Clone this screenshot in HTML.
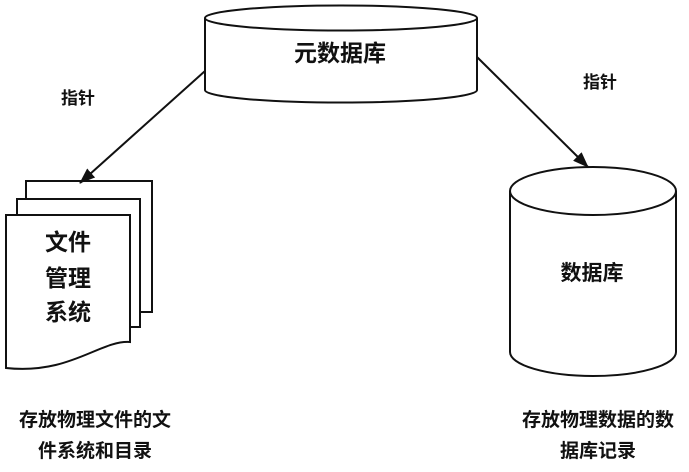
<!DOCTYPE html>
<html><head><meta charset="utf-8"><style>
body{margin:0;background:#fff;width:689px;height:472px;overflow:hidden}
svg{display:block}
text{font-family:"Liberation Sans","Noto Sans CJK SC",sans-serif;font-weight:bold;fill:#111}
</style></head><body>
<svg width="689" height="472" viewBox="0 0 689 472" xmlns="http://www.w3.org/2000/svg">
<defs>
<marker id="b" markerWidth="16" markerHeight="12" refX="15" refY="6" orient="auto" markerUnits="userSpaceOnUse"><path d="M0,0 L16,6 L0,12 z" fill="#111"/></marker></defs>
<g stroke="#111" stroke-width="2" fill="#fff">
<path d="M205,18 L205,90 A136,12.5 0 0 0 477,90 L477,18"/>
<ellipse cx="341" cy="18" rx="136" ry="12.5"/>
<path d="M510,191 L510,352 A83,24 0 0 0 676,352 L676,191"/>
<ellipse cx="593" cy="191" rx="83" ry="24"/>
<rect x="26" y="181" width="126" height="131"/>
<rect x="17" y="199" width="123" height="128"/>
<path d="M6,215 L130,215 L130,342 C100,340 70,375 6,368 Z"/>
<line x1="205" y1="71" x2="80" y2="183" fill="none" marker-end="url(#b)"/>
<line x1="477" y1="57" x2="588" y2="167" fill="none" marker-end="url(#b)"/>
</g>
<text x="340" y="61" font-size="23" text-anchor="middle">元数据库</text>
<text x="78" y="104" font-size="17" text-anchor="middle">指针</text>
<text x="600" y="88" font-size="17" text-anchor="middle">指针</text>
<text x="68" y="250" font-size="23" text-anchor="middle">文件</text>
<text x="68" y="286" font-size="23" text-anchor="middle">管理</text>
<text x="68" y="320" font-size="23" text-anchor="middle">系统</text>
<text x="592" y="280" font-size="21" text-anchor="middle">数据库</text>
<text x="95" y="426" font-size="19" text-anchor="middle">存放物理文件的文</text>
<text x="95" y="457" font-size="19" text-anchor="middle">件系统和目录</text>
<text x="598" y="426" font-size="19" text-anchor="middle">存放物理数据的数</text>
<text x="598" y="457" font-size="19" text-anchor="middle">据库记录</text>
</svg>
</body></html>
